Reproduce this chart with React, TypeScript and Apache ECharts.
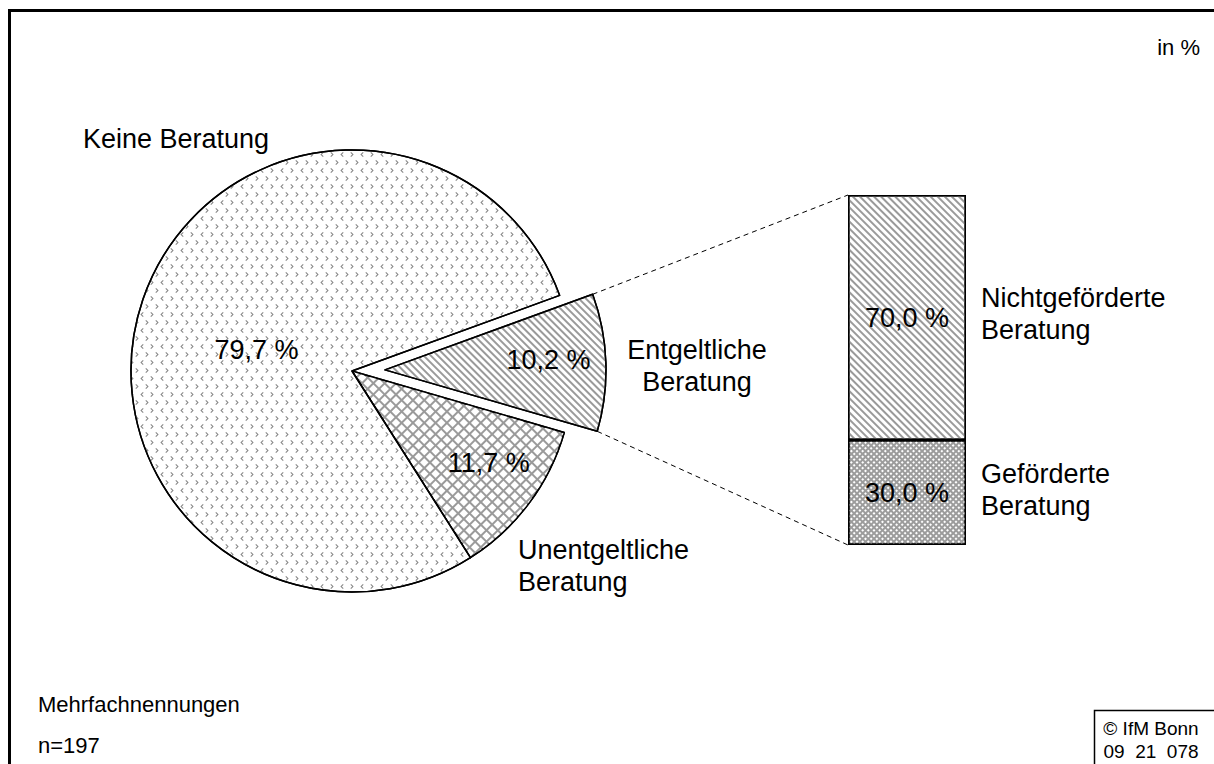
import React, { useEffect, useRef } from "react";
import * as echarts from "echarts";

// ---- data ----
const pieCategories = ["Entgeltliche\nBeratung", "Unentgeltliche\nBeratung", "Keine Beratung"];
const pieValues = [10.2, 11.7, 79.7];
const pieValueLabels = ["10,2 %", "11,7 %", "79,7 %"];
const barCategories = ["Geförderte\nBeratung", "Nichtgeförderte\nBeratung"];
const barValues = [30.0, 70.0];
const barValueLabels = ["30,0 %", "70,0 %"];
const footnotes = ["Mehrfachnennungen", "n=197"];
const unitLabel = "in %";
const sourceLines = ["© IfM Bonn", "09  21  078"];

// ---- layout ----
const FONT = "'Liberation Sans', Arial, sans-serif";
const BIG = 27;
const SMALL = 22;
const PIE_CX = 352;
const PIE_CY = 371;
const PIE_R = 221;
const START_ANGLE = 20;
const EXPLODE = 33;
const BAR_LEFT = 848;
const BAR_TOP = 195;
const BAR_W = 118;
const BAR_H = 350;
const pieLabelShift = [
  [50, -6],
  [46, 24],
  [12, 16],
];
const pieNamePos = [
  { x: 697, y: 366, align: "center" },
  { x: 518, y: 566, align: "left" },
  { x: 83, y: 139, align: "left" },
];
const barNamePos = [
  { x: 981, y: 490 },
  { x: 981, y: 314 },
];

const chevL = "path://M3,0 L4,1 L1.8,3 L4,5 L3,6 L0,3 Z";
const chevR = "path://M1,0 L4,3 L1,6 L0,5 L2.2,3 L0,1 Z";

const pieStyles = [
  {
    color: "#ffffff",
    decal: {
      symbol: "rect",
      symbolSize: 1,
      color: "#9a9a9a",
      dashArrayX: [1, 0],
      dashArrayY: [2, 2.4],
      rotation: Math.PI / 4,
    },
  },
  {
    color: "#9a9a9a",
    decal: {
      symbol: "rect",
      symbolSize: 1,
      color: "#ffffff",
      dashArrayX: [5.6, 1.8],
      dashArrayY: [5.6, 1.8],
      rotation: Math.PI / 4,
    },
  },
  {
    color: "#ffffff",
    decal: {
      symbol: [chevL, chevR],
      symbolSize: 1,
      color: "#8a8a8a",
      dashArrayX: [
        [4, 6],
        [0, 5, 4, 1],
      ],
      dashArrayY: [5, 2.5],
      rotation: 0,
    },
  },
];

const barStyles = [
  {
    color: "#9c9c9c",
    decal: {
      symbol: "rect",
      symbolSize: 1,
      color: "#ffffff",
      dashArrayX: [1.6, 1.4],
      dashArrayY: [1.6, 1.4],
      rotation: Math.PI / 4,
    },
  },
  {
    color: "#ffffff",
    decal: {
      symbol: "rect",
      symbolSize: 1,
      color: "#9a9a9a",
      dashArrayX: [1, 0],
      dashArrayY: [2, 2.2],
      rotation: Math.PI / 4,
    },
  },
];

export default function App() {
  const ref = useRef<HTMLDivElement>(null);

  useEffect(() => {
    if (!ref.current) return;
    const chart = echarts.init(ref.current, null, { renderer: "svg" });

    const total = pieValues.reduce((a, b) => a + b, 0);
    const a0 = START_ANGLE;
    const a1 = START_ANGLE - (360 * pieValues[0]) / total;
    const mid = ((a0 + a1) / 2) * (Math.PI / 180);
    const ecx = PIE_CX + EXPLODE * Math.cos(mid);
    const ecy = PIE_CY - EXPLODE * Math.sin(mid);
    const p0 = [ecx + PIE_R * Math.cos((a0 * Math.PI) / 180), ecy - PIE_R * Math.sin((a0 * Math.PI) / 180)];
    const p1 = [ecx + PIE_R * Math.cos((a1 * Math.PI) / 180), ecy - PIE_R * Math.sin((a1 * Math.PI) / 180)];

    const textStyle = (extra: any) => ({
      fontFamily: FONT,
      fill: "#000",
      ...extra,
    });

    const graphics: any[] = [
      {
        type: "rect",
        shape: { x: 9.5, y: 10.5, width: 1220, height: 770 },
        style: { fill: "none", stroke: "#000", lineWidth: 3 },
        silent: true,
      },
      {
        type: "rect",
        shape: { x: 1094.5, y: 710.5, width: 130, height: 60 },
        style: { fill: "#fff", stroke: "#000", lineWidth: 1.5 },
        silent: true,
      },
      {
        type: "line",
        shape: { x1: p0[0], y1: p0[1], x2: BAR_LEFT, y2: BAR_TOP },
        style: { stroke: "#000", lineWidth: 1, lineDash: [5, 4] },
      },
      {
        type: "line",
        shape: { x1: p1[0], y1: p1[1], x2: BAR_LEFT, y2: BAR_TOP + BAR_H },
        style: { stroke: "#000", lineWidth: 1, lineDash: [5, 4] },
      },
      {
        type: "text",
        x: 1200,
        y: 47,
        style: textStyle({ text: unitLabel, fontSize: SMALL, align: "right", verticalAlign: "middle" }),
      },
      {
        type: "text",
        x: 38,
        y: 704,
        style: textStyle({ text: footnotes[0], fontSize: SMALL, align: "left", verticalAlign: "middle" }),
      },
      {
        type: "text",
        x: 38,
        y: 745,
        style: textStyle({ text: footnotes[1], fontSize: SMALL, align: "left", verticalAlign: "middle" }),
      },
      {
        type: "text",
        x: 1151,
        y: 740,
        style: textStyle({
          text: sourceLines.join("\n"),
          fontSize: 19,
          lineHeight: 23,
          align: "center",
          verticalAlign: "middle",
        }),
      },
    ];
    pieCategories.forEach((name, i) => {
      graphics.push({
        type: "text",
        x: pieNamePos[i].x,
        y: pieNamePos[i].y,
        style: textStyle({
          text: name,
          fontSize: BIG,
          lineHeight: 32,
          align: pieNamePos[i].align,
          verticalAlign: "middle",
        }),
      });
    });
    barCategories.forEach((name, i) => {
      graphics.push({
        type: "text",
        x: barNamePos[i].x,
        y: barNamePos[i].y,
        style: textStyle({
          text: name,
          fontSize: BIG,
          lineHeight: 32,
          align: "left",
          verticalAlign: "middle",
        }),
      });
    });

    chart.setOption({
      animation: false,
      backgroundColor: "#fff",
      grid: { left: BAR_LEFT, top: BAR_TOP, width: BAR_W, height: BAR_H },
      xAxis: { type: "category", data: ["Entgeltliche Beratung"], show: false },
      yAxis: { type: "value", min: 0, max: 100, show: false },
      series: [
        {
          type: "pie",
          center: [PIE_CX, PIE_CY],
          radius: [0, PIE_R],
          startAngle: START_ANGLE,
          clockwise: true,
          selectedMode: "single",
          selectedOffset: EXPLODE,
          avoidLabelOverlap: false,
          emphasis: { disabled: true },
          label: {
            show: true,
            position: "inside",
            formatter: (p: any) => pieValueLabels[p.dataIndex],
            fontFamily: FONT,
            fontSize: BIG,
            color: "#000",
          },
          labelLine: { show: false },
          labelLayout: (p: any) => ({
            dx: pieLabelShift[p.dataIndex][0],
            dy: pieLabelShift[p.dataIndex][1],
          }),
          data: pieValues.map((v, i) => ({
            name: pieCategories[i],
            value: v,
            selected: i === 0,
            itemStyle: {
              ...pieStyles[i],
              borderColor: "#000",
              borderWidth: 1.5,
            },
            select: {
              itemStyle: {
                ...pieStyles[i],
                borderColor: "#000",
                borderWidth: 1.5,
              },
            },
          })),
        },
        ...barValues.map((v, i) => ({
          type: "bar",
          name: barCategories[i],
          stack: "total",
          barWidth: "100%",
          emphasis: { disabled: true },
          data: [v],
          itemStyle: { ...barStyles[i], borderColor: "#000", borderWidth: 1.5 },
          label: {
            show: true,
            position: "inside",
            formatter: () => barValueLabels[i],
            fontFamily: FONT,
            fontSize: BIG,
            color: "#000",
          },
        })),
      ],
      graphic: graphics,
    });

    return () => chart.dispose();
  }, []);

  return (
    <div
      ref={ref}
      style={{ position: "fixed", left: 0, top: 0, width: 1214, height: 764 }}
    />
  );
}
